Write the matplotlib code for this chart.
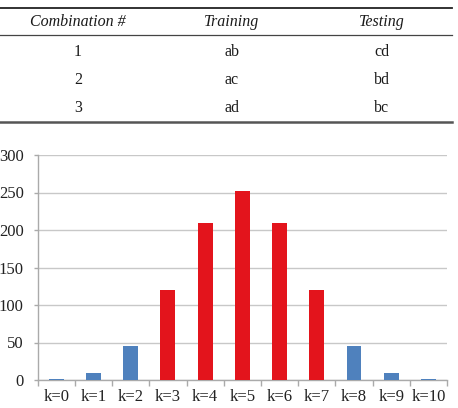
import matplotlib
matplotlib.use("Agg")
import matplotlib.pyplot as plt
from matplotlib.lines import Line2D

# ---- data ----
table_header = ["Combination #", "Training", "Testing"]
table_rows = [["1", "ab", "cd"], ["2", "ac", "bd"], ["3", "ad", "bc"]]

categories = ["k=0", "k=1", "k=2", "k=3", "k=4", "k=5", "k=6", "k=7", "k=8", "k=9", "k=10"]
values = [1, 10, 45, 120, 210, 252, 210, 120, 45, 10, 1]
is_red = [False, False, False, True, True, True, True, True, False, False, False]
yticks = [0, 50, 100, 150, 200, 250, 300]

W, H = 458, 408
plt.rcParams['font.family'] = ['Liberation Serif', 'DejaVu Serif']
fig = plt.figure(figsize=(W / 100, H / 100), dpi=100)
fig.patch.set_facecolor("white")

def fy(py):
    return 1 - py / H

def fx(px):
    return px / W

# ---- table ----
col_x = [78, 232, 382]
fig.add_artist(Line2D([fx(0), fx(452)], [fy(7.5), fy(7.5)], color="#222222", lw=1.3))
fig.add_artist(Line2D([fx(0), fx(452)], [fy(35), fy(35)], color="#444444", lw=0.9))
fig.add_artist(Line2D([fx(0), fx(452)], [fy(121.5), fy(121.5)], color="#555555", lw=1.8))
for x, t in zip(col_x, table_header):
    fig.text(fx(x), fy(22), t, ha="center", va="center", fontsize=11.5, style="italic", color="#1a1a1a")
row_y = [52, 80, 108]
for ry, row in zip(row_y, table_rows):
    for x, t in zip(col_x, row):
        fig.text(fx(x), fy(ry), t, ha="center", va="center", fontsize=11.5, color="#1a1a1a")

# ---- bar chart ----
left, right, top, bottom = 37.7, 447, 155, 380
ax = fig.add_axes([fx(left), fy(bottom), fx(right) - fx(left), fy(top) - fy(bottom)])
colors = ["#E3141C" if r else "#4F81BD" for r in is_red]
xs = list(range(len(categories)))
ax.bar(xs, values, width=0.4, color=colors, zorder=3)
ax.set_xlim(-0.5, len(categories) - 0.5)
ax.set_ylim(0, 300)
ax.set_yticks(yticks)
ax.set_yticklabels([str(v) for v in yticks], fontsize=12, color="#222222")
ax.grid(axis="y", color="#C8C8C8", lw=1.0, zorder=0)
ax.set_xticks([x for x in xs])
ax.set_xticklabels(categories, fontsize=12, color="#222222")
ax.tick_params(axis="x", length=0, pad=6.5)
ax.set_xticks([x - 0.5 for x in xs] + [len(xs) - 0.5], minor=True)
ax.tick_params(axis="x", which="minor", length=4, color="#AAAAAA", width=1)
ax.tick_params(axis="y", length=3, color="#AAAAAA", width=1, pad=7)
for s in ["top", "right"]:
    ax.spines[s].set_visible(False)
for s in ["left", "bottom"]:
    ax.spines[s].set_color("#AAAAAA")
    ax.spines[s].set_linewidth(1)

fig.savefig("out.png", dpi=100, facecolor="white")
